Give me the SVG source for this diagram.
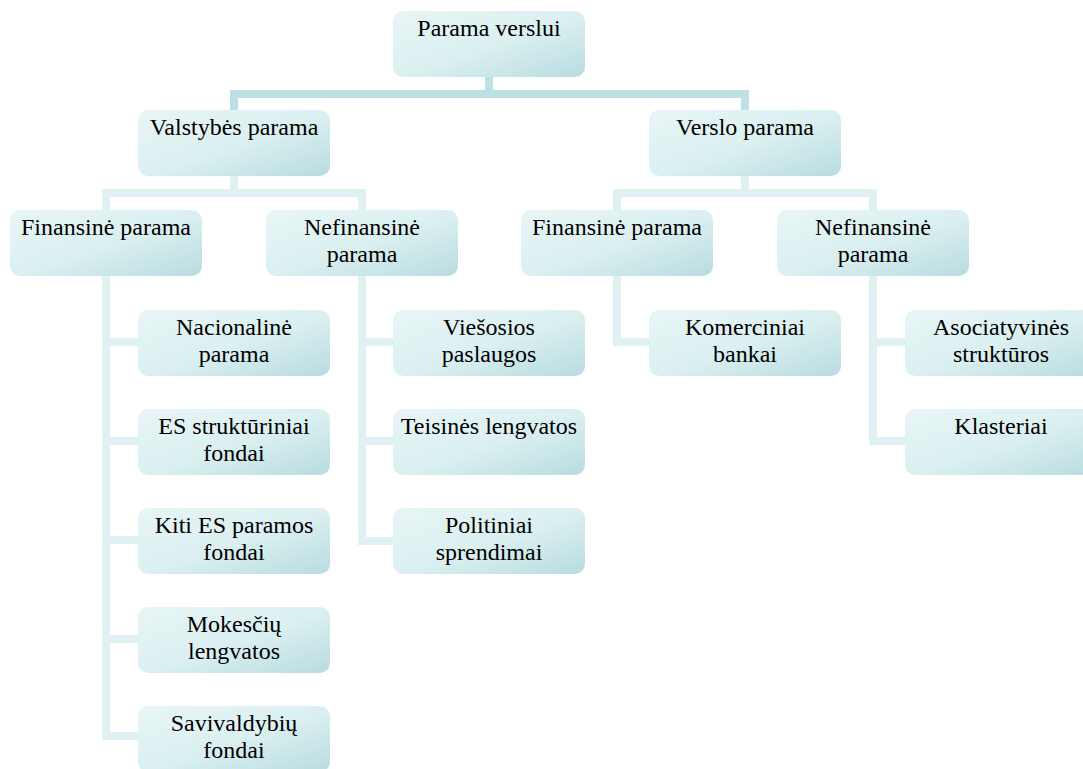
<svg xmlns="http://www.w3.org/2000/svg" width="1083" height="769" viewBox="0 0 1083 769">
<defs>
<linearGradient id="g" x1="0" y1="0" x2="1" y2="1">
<stop offset="0" stop-color="#e8f5f6"/>
<stop offset="0.5" stop-color="#dcf0f1"/>
<stop offset="1" stop-color="#b8dce0"/>
</linearGradient>
<style>
.b{fill:url(#g);}
.t{font-family:"Liberation Serif","Times New Roman",serif;font-size:24px;fill:#000;text-anchor:middle;}
.c1{fill:none;stroke:#bde0e4;stroke-width:8;}
.c2{fill:none;stroke:#e0f1f3;stroke-width:8;}
</style>
</defs>
<rect width="1083" height="769" fill="#fff"/>
<g id="connectors">
<path class="c1" d="M234 110V94H745V110M489 77V94"/>
<path class="c2" d="M106 210V193H362V210M234 176V193"/>
<path class="c2" d="M617 210V193H873V210M745 176V193"/>
<path class="c2" d="M106 276V736H138M106 342H138M106 441H138M106 540H138M106 639H138"/>
<path class="c2" d="M362 276V541H393M362 342H393M362 441H393"/>
<path class="c2" d="M617 276V342H649"/>
<path class="c2" d="M873 276V441H905M873 342H905"/>
</g>
<g id="n-root"><rect class="b" x="393" y="11" width="192" height="66" rx="10"/><text class="t" x="489" y="36">Parama verslui</text></g>
<g id="n-valstybes"><rect class="b" x="138" y="110" width="192" height="66" rx="10"/><text class="t" x="234" y="135">Valstybės parama</text></g>
<g id="n-verslo"><rect class="b" x="649" y="110" width="192" height="66" rx="10"/><text class="t" x="745" y="135">Verslo parama</text></g>
<g id="n-fin1"><rect class="b" x="10" y="210" width="192" height="66" rx="10"/><text class="t" x="106" y="235">Finansinė parama</text></g>
<g id="n-nefin1"><rect class="b" x="266" y="210" width="192" height="66" rx="10"/><text class="t" x="362" y="235">Nefinansinė</text><text class="t" x="362" y="262">parama</text></g>
<g id="n-fin2"><rect class="b" x="521" y="210" width="192" height="66" rx="10"/><text class="t" x="617" y="235">Finansinė parama</text></g>
<g id="n-nefin2"><rect class="b" x="777" y="210" width="192" height="66" rx="10"/><text class="t" x="873" y="235">Nefinansinė</text><text class="t" x="873" y="262">parama</text></g>
<g id="n-nacionaline"><rect class="b" x="138" y="310" width="192" height="66" rx="10"/><text class="t" x="234" y="335">Nacionalinė</text><text class="t" x="234" y="362">parama</text></g>
<g id="n-es"><rect class="b" x="138" y="409" width="192" height="66" rx="10"/><text class="t" x="234" y="434">ES struktūriniai</text><text class="t" x="234" y="461">fondai</text></g>
<g id="n-kiti"><rect class="b" x="138" y="508" width="192" height="66" rx="10"/><text class="t" x="234" y="533">Kiti ES paramos</text><text class="t" x="234" y="560">fondai</text></g>
<g id="n-mokesciu"><rect class="b" x="138" y="607" width="192" height="66" rx="10"/><text class="t" x="234" y="632">Mokesčių</text><text class="t" x="234" y="659">lengvatos</text></g>
<g id="n-savivaldybiu"><rect class="b" x="138" y="706" width="192" height="66" rx="10"/><text class="t" x="234" y="731">Savivaldybių</text><text class="t" x="234" y="758">fondai</text></g>
<g id="n-viesosios"><rect class="b" x="393" y="310" width="192" height="66" rx="10"/><text class="t" x="489" y="335">Viešosios</text><text class="t" x="489" y="362">paslaugos</text></g>
<g id="n-teisines"><rect class="b" x="393" y="409" width="192" height="66" rx="10"/><text class="t" x="489" y="434">Teisinės lengvatos</text></g>
<g id="n-politiniai"><rect class="b" x="393" y="508" width="192" height="66" rx="10"/><text class="t" x="489" y="533">Politiniai</text><text class="t" x="489" y="560">sprendimai</text></g>
<g id="n-komerciniai"><rect class="b" x="649" y="310" width="192" height="66" rx="10"/><text class="t" x="745" y="335">Komerciniai</text><text class="t" x="745" y="362">bankai</text></g>
<g id="n-asociatyvines"><rect class="b" x="905" y="310" width="192" height="66" rx="10"/><text class="t" x="1001" y="335">Asociatyvinės</text><text class="t" x="1001" y="362">struktūros</text></g>
<g id="n-klasteriai"><rect class="b" x="905" y="409" width="192" height="66" rx="10"/><text class="t" x="1001" y="434">Klasteriai</text></g>
</svg>
